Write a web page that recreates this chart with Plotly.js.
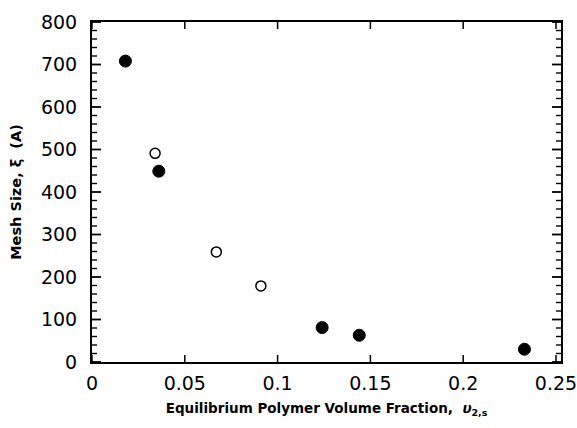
<!DOCTYPE html>
<html>
<head>
<meta charset="utf-8">
<script src="https://cdn.plot.ly/plotly-3.0.1.min.js"></script>
<style>html,body{margin:0;padding:0;background:#fff;}#chart{width:577px;height:428px;}</style>
</head>
<body>
<div id="chart"></div>
<script>
// Filled circles
const filledX = [0.018, 0.036, 0.124, 0.144, 0.233];
const filledY = [708, 449, 81, 63, 30];
// Open circles
const openX = [0.034, 0.067, 0.091];
const openY = [491, 259, 179];

const xTickVals = [0, 0.05, 0.1, 0.15, 0.2, 0.25];
const xTickText = ['0', '0.05', '0.1', '0.15', '0.2', '0.25'];
const yTickVals = [0, 100, 200, 300, 400, 500, 600, 700, 800];
const yTickText = ['0', '100', '200', '300', '400', '500', '600', '700', '800'];
const yMinorStep = 20;

const W = 577, H = 428;
const M = {l: 92, r: 16, t: 22, b: 66};
const plotW = W - M.l - M.r, plotH = H - M.t - M.b;

// Tick marks drawn as axis-decoration shapes (positions come from the tick arrays)
const shapes = [];
const xLen = 7 / plotH, yMajLen = 9 / plotW, yMinLen = 5 / plotW;
xTickVals.forEach(function(v){
  shapes.push({type: 'line', xref: 'x', yref: 'y domain', x0: v, x1: v, y0: 0, y1: xLen, line: {color: '#000', width: 1.5}});
  shapes.push({type: 'line', xref: 'x', yref: 'y domain', x0: v, x1: v, y0: 1, y1: 1 - xLen, line: {color: '#000', width: 1.5}});
});
for (let v = 0; v <= yTickVals[yTickVals.length - 1]; v += yMinorStep) {
  const major = yTickVals.indexOf(v) >= 0;
  const len = major ? yMajLen : yMinLen;
  const w = major ? 1.8 : 1.4;
  shapes.push({type: 'line', xref: 'x domain', yref: 'y', x0: 0, x1: len, y0: v, y1: v, line: {color: '#000', width: w}});
  shapes.push({type: 'line', xref: 'x domain', yref: 'y', x0: 1, x1: 1 - len, y0: v, y1: v, line: {color: '#000', width: w}});
}

const traces = [
  {
    x: filledX, y: filledY, type: 'scatter', mode: 'markers',
    marker: {symbol: 'circle', size: 12, color: '#000', line: {color: '#000', width: 1}},
    showlegend: false, cliponaxis: false
  },
  {
    x: openX, y: openY, type: 'scatter', mode: 'markers',
    marker: {symbol: 'circle-open', size: 10, color: '#000', line: {color: '#000', width: 1.5}},
    showlegend: false, cliponaxis: false
  }
];

const layout = {
  width: W, height: H,
  margin: M,
  paper_bgcolor: '#fff', plot_bgcolor: '#fff',
  font: {family: 'DejaVu Sans, sans-serif', color: '#000'},
  showlegend: false,
  shapes: shapes,
  xaxis: {
    range: [0, 0.2527],
    tickmode: 'array', tickvals: xTickVals, ticktext: xTickText,
    ticks: '',
    showline: true, linecolor: '#000', linewidth: 2, mirror: true,
    showgrid: false, zeroline: false,
    ticklabeloverflow: 'allow',
    tickfont: {family: 'DejaVu Sans, sans-serif', size: 19, color: '#000'},
    ticklabelstandoff: 3,
    title: {
      text: 'Equilibrium Polymer Volume Fraction,  <i>υ</i><sub>2,s</sub>',
      font: {family: 'DejaVu Sans, sans-serif', size: 13.5, color: '#000', weight: 'bold'},
      standoff: 11
    }
  },
  yaxis: {
    range: [0, 800],
    tickmode: 'array', tickvals: yTickVals, ticktext: yTickText,
    ticks: '',
    showline: true, linecolor: '#000', linewidth: 2, mirror: true,
    showgrid: false, zeroline: false,
    tickfont: {family: 'DejaVu Sans, sans-serif', size: 19, color: '#000'},
    ticklabelstandoff: 9,
    title: {
      text: 'Mesh Size, ξ  (A)',
      font: {family: 'DejaVu Sans, sans-serif', size: 14.5, color: '#000', weight: 'bold'},
      standoff: 16
    }
  }
};

Plotly.newPlot('chart', traces, layout, {displayModeBar: false, staticPlot: true});
</script>
</body>
</html>
